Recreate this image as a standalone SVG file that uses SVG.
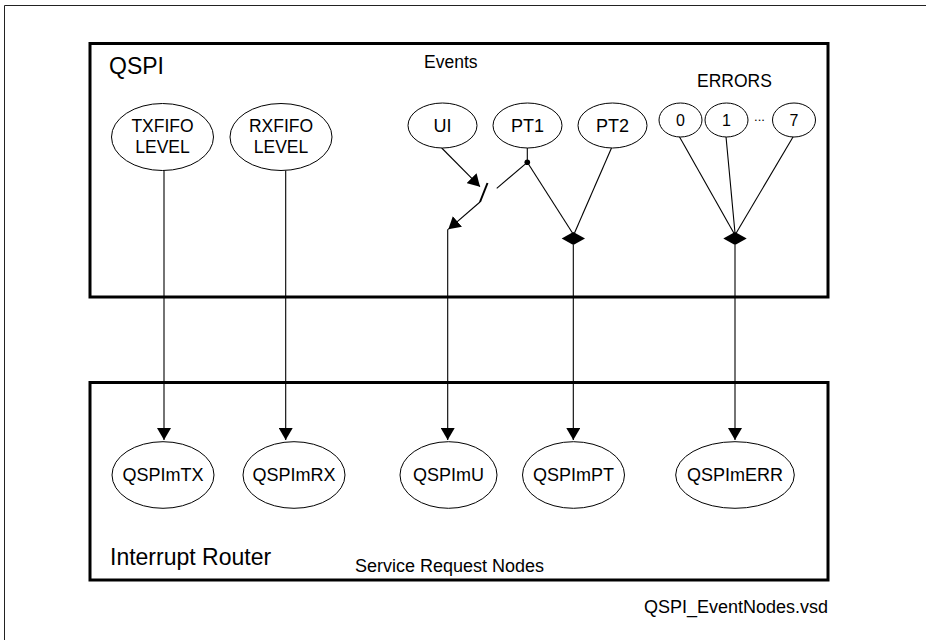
<svg xmlns="http://www.w3.org/2000/svg" width="926" height="640" viewBox="0 0 926 640">
<defs>
<style>
text{font-family:"Liberation Sans",Arial,sans-serif;fill:#000}
.box{fill:none;stroke:#000;stroke-width:3}
.node{fill:#fff;stroke:#000;stroke-width:1}
.lbl{font-size:17.5px;text-anchor:middle}
.sm{font-size:18px;text-anchor:middle}
.dg{font-size:16px;text-anchor:middle}
.ln{fill:none;stroke:#000;stroke-width:1.1}
</style>
<marker id="arr" markerUnits="userSpaceOnUse" markerWidth="12" markerHeight="14" refX="12" refY="7" orient="auto">
<path d="M0,0 L12,7 L0,14 z" fill="#000"/>
</marker>
</defs>
<rect width="926" height="640" fill="#fff"/>
<path d="M4.5,640 V5.5 H926" fill="none" stroke="#222" stroke-width="1"/>

<g id="qspi-box">
<rect class="box" x="90" y="43.5" width="738" height="253.5"/>
<text x="109" y="73.5" style="font-size:23px">QSPI</text>
<text x="424" y="68" style="font-size:17.5px">Events</text>
<text x="697" y="87" style="font-size:17.5px">ERRORS</text>
</g>
<g id="ir-box">
<rect class="box" x="90" y="382.5" width="738" height="197.5"/>
<text x="110" y="565" style="font-size:23px">Interrupt Router</text>
<text x="544" y="572" style="font-size:18px;text-anchor:end">Service Request Nodes</text>
</g>
<text x="828" y="613" style="font-size:18px;text-anchor:end">QSPI_EventNodes.vsd</text>

<g id="connectors">
<line class="ln" x1="164" y1="170.5" x2="164" y2="440" marker-end="url(#arr)"/>
<line class="ln" x1="285.7" y1="170.5" x2="285.7" y2="440" marker-end="url(#arr)"/>
<line class="ln" x1="441.7" y1="148" x2="480" y2="186.7" marker-end="url(#arr)"/>
<line x1="480" y1="202" x2="487.5" y2="183" stroke="#000" stroke-width="2"/>
<line class="ln" x1="480" y1="202" x2="448.3" y2="229.3" marker-end="url(#arr)"/>
<line class="ln" x1="447.7" y1="229.3" x2="447.7" y2="440" marker-end="url(#arr)"/>
<line class="ln" x1="527.3" y1="148" x2="527.3" y2="162.3"/>
<circle cx="527.3" cy="162.3" r="2.8" fill="#000"/>
<line class="ln" x1="527.3" y1="162.3" x2="496.7" y2="188.3"/>
<line class="ln" x1="527.3" y1="162.3" x2="572.5" y2="233"/>
<line class="ln" x1="611.5" y1="148" x2="574.5" y2="233"/>
<polygon points="561.7,238.5 573.3,232 585,238.5 573.3,245" fill="#000"/>
<line class="ln" x1="573.3" y1="245" x2="573.3" y2="440" marker-end="url(#arr)"/>
<line class="ln" x1="679.3" y1="136.5" x2="733.8" y2="233"/>
<line class="ln" x1="726" y1="136.5" x2="735" y2="233"/>
<line class="ln" x1="793.3" y1="136.5" x2="736.2" y2="233"/>
<polygon points="723.3,238.5 735,232 746.7,238.5 735,245" fill="#000"/>
<line class="ln" x1="735" y1="245" x2="735" y2="440" marker-end="url(#arr)"/>
</g>

<g id="txfifo">
<ellipse class="node" cx="162.5" cy="137" rx="51" ry="33.5"/>
<text class="lbl" x="162.5" y="131.7">TXFIFO</text>
<text class="lbl" x="162.5" y="153.3">LEVEL</text>
</g>
<g id="rxfifo">
<ellipse class="node" cx="281" cy="137" rx="51" ry="33.5"/>
<text class="lbl" x="281" y="131.7">RXFIFO</text>
<text class="lbl" x="281" y="153.3">LEVEL</text>
</g>
<g id="ui">
<ellipse class="node" cx="442.5" cy="125.5" rx="34.5" ry="22.5"/>
<text class="sm" x="442.5" y="132">UI</text>
</g>
<g id="pt1">
<ellipse class="node" cx="527.5" cy="125.5" rx="34.5" ry="22.5"/>
<text class="sm" x="527.5" y="132">PT1</text>
</g>
<g id="pt2">
<ellipse class="node" cx="612.5" cy="125.5" rx="34.5" ry="22.5"/>
<text class="sm" x="612.5" y="132">PT2</text>
</g>
<g id="err0">
<ellipse class="node" cx="680.5" cy="120" rx="21.5" ry="17"/>
<text class="dg" x="680.5" y="125.5">0</text>
</g>
<g id="err1">
<ellipse class="node" cx="726.5" cy="120" rx="21.5" ry="17"/>
<text class="dg" x="726.5" y="125.5">1</text>
</g>
<text x="759.5" y="120.5" style="font-size:13px;text-anchor:middle">...</text>
<g id="err7">
<ellipse class="node" cx="794" cy="120" rx="21.5" ry="17"/>
<text class="dg" x="794" y="125.5">7</text>
</g>

<g id="qspimtx">
<ellipse class="node" cx="163" cy="475" rx="51" ry="33.3"/>
<text class="sm" x="163" y="481">QSPImTX</text>
</g>
<g id="qspimrx">
<ellipse class="node" cx="294" cy="475" rx="51" ry="33.3"/>
<text class="sm" x="294" y="481">QSPImRX</text>
</g>
<g id="qspimu">
<ellipse class="node" cx="448.5" cy="475" rx="48.5" ry="33.3"/>
<text class="sm" x="448.5" y="481">QSPImU</text>
</g>
<g id="qspimpt">
<ellipse class="node" cx="573.5" cy="475" rx="51" ry="33.3"/>
<text class="sm" x="573.5" y="481">QSPImPT</text>
</g>
<g id="qspimerr">
<ellipse class="node" cx="735" cy="475" rx="59.3" ry="33.3"/>
<text class="sm" x="735" y="481">QSPImERR</text>
</g>
</svg>
